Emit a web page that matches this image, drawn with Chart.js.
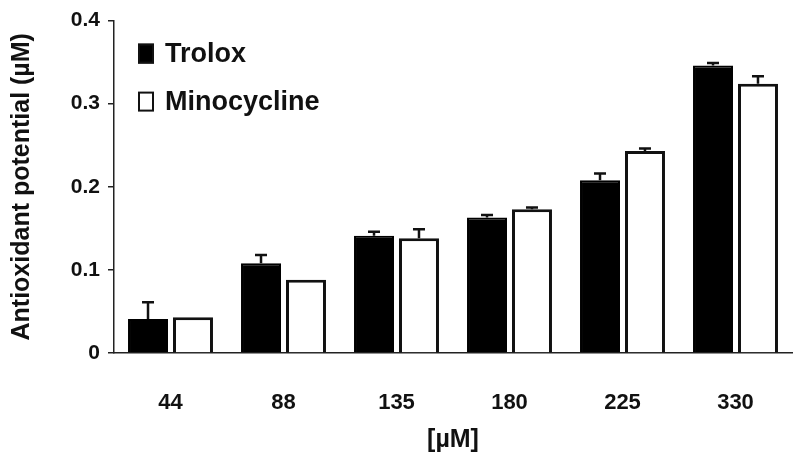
<!DOCTYPE html>
<html>
<head>
<meta charset="utf-8">
<script src="https://cdn.jsdelivr.net/npm/chart.js@4"></script>
<style>
  html, body { margin: 0; padding: 0; background: #fff; }
  #wrap { width: 800px; height: 464px; }
</style>
</head>
<body>
<div id="wrap"><canvas id="chart" width="800" height="464"></canvas></div>
<script>
// concentrations on the x axis
const doses = ["44", "88", "135", "180", "225", "330"];

// antioxidant potential (µM)
const trolox = [0.041, 0.108, 0.141, 0.163, 0.208, 0.346];
const troloxErr = [0.020, 0.010, 0.005, 0.003, 0.008, 0.003];

const minocycline = [0.043, 0.088, 0.138, 0.173, 0.243, 0.324];
const minocyclineErr = [0, 0, 0.011, 0.002, 0.003, 0.009];

const FONT = "'Liberation Sans', Arial, sans-serif";
const INK = "#111";

// ── Error bars (upper only) ─────────────────────────────
const errorBars = {
  id: "errorBars",
  afterDatasetsDraw(chart) {
    const ctx = chart.ctx;
    const yScale = chart.scales.y;
    chart.data.datasets.forEach((ds, di) => {
      const meta = chart.getDatasetMeta(di);
      meta.data.forEach((bar, i) => {
        const err = ds.errors[i];
        if (!err) return;
        const yTop = yScale.getPixelForValue(ds.data[i] + err);
        ctx.save();
        ctx.strokeStyle = INK;
        ctx.lineWidth = 2.5;
        ctx.beginPath();
        ctx.moveTo(bar.x, bar.y);
        ctx.lineTo(bar.x, yTop);
        ctx.moveTo(bar.x - 6, yTop);
        ctx.lineTo(bar.x + 6, yTop);
        ctx.stroke();
        ctx.restore();
      });
    });
  },
};

// ── Legend inside the plot ──────────────────────────────
const innerLegend = {
  id: "innerLegend",
  afterDraw(chart) {
    const ctx = chart.ctx;
    const { left, top } = chart.chartArea;
    ctx.save();
    ctx.font = "bold 27px " + FONT;
    ctx.textBaseline = "middle";
    chart.data.datasets.forEach((ds, i) => {
      const x = left + 24;
      const y = top + 23 + i * 48;
      ctx.fillStyle = ds.backgroundColor;
      ctx.fillRect(x, y, 16, 20);
      ctx.strokeStyle = INK;
      ctx.lineWidth = 2;
      ctx.strokeRect(x + 1, y + 1, 14, 18);
      ctx.fillStyle = INK;
      ctx.fillText(ds.label, x + 27, y + 11);
    });
    ctx.restore();
  },
};

new Chart(document.getElementById("chart"), {
  type: "bar",
  data: {
    labels: doses,
    datasets: [
      {
        label: "Trolox",
        data: trolox,
        errors: troloxErr,
        backgroundColor: "#000",
        borderColor: "#000",
        borderWidth: 2,
      },
      {
        label: "Minocycline",
        data: minocycline,
        errors: minocyclineErr,
        backgroundColor: "#fff",
        borderColor: INK,
        borderWidth: 3,
      },
    ],
  },
  options: {
    responsive: false,
    animation: false,
    categoryPercentage: 0.796,
    barPercentage: 0.889,
    layout: { padding: { top: 20, right: 8, left: 0, bottom: 0 } },
    plugins: {
      legend: { display: false },
      tooltip: { enabled: false },
    },
    scales: {
      x: {
        grid: { display: false },
        border: { display: true, color: "#222", width: 1.5 },
        ticks: {
          color: INK,
          padding: 29,
          font: { family: FONT, size: 22, weight: "bold" },
        },
        title: {
          display: true,
          text: "[µM]",
          color: INK,
          padding: { top: 0, bottom: 9 },
          font: { family: FONT, size: 25, weight: "bold" },
        },
        afterFit: (scale) => { scale.height = 111; },
      },
      y: {
        min: 0,
        max: 0.4,
        grid: {
          drawOnChartArea: false,
          drawTicks: true,
          tickLength: 6,
          color: "#222",
          lineWidth: 1.5,
        },
        border: { display: true, color: "#222", width: 1.5 },
        ticks: {
          stepSize: 0.1,
          color: INK,
          padding: 8,
          font: { family: FONT, size: 21, weight: "bold" },
        },
        title: {
          display: true,
          text: "Antioxidant potential (µM)",
          color: INK,
          padding: { top: 7, bottom: 0 },
          font: { family: FONT, size: 25, weight: "bold" },
        },
        afterFit: (scale) => { scale.width = 114; },
      },
    },
  },
  plugins: [errorBars, innerLegend],
});
</script>
</body>
</html>
